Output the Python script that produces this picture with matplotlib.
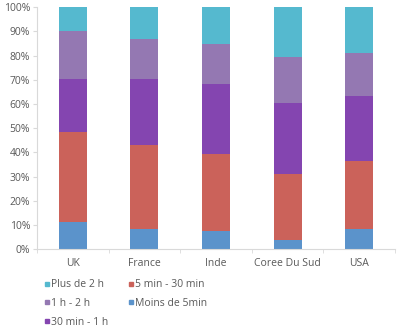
import numpy as np
import matplotlib.pyplot as plt
from matplotlib.lines import Line2D

plt.rcParams['font.family'] = ['Open Sans', 'DejaVu Sans']

countries = ['UK', 'France', 'Inde', 'Coree Du Sud', 'USA']

# share of each duration bucket, bottom to top
moins_5min = [11.2, 8.5, 7.6, 4.0, 8.5]
min5_30 = [37.4, 34.6, 31.8, 27.1, 27.8]
min30_1h = [21.8, 27.2, 28.7, 29.5, 26.9]
h1_2 = [19.8, 16.4, 16.9, 18.9, 18.0]
plus_2h = [9.8, 13.3, 15.0, 20.5, 18.8]

series = [moins_5min, min5_30, min30_1h, h1_2, plus_2h]
labels = ['Moins de 5min', '5 min - 30 min', '30 min - 1 h', '1 h - 2 h', 'Plus de 2 h']
colors = ['#5B93CB', '#CB625A', '#8445B0', '#9478B2', '#55B9CF']

fig = plt.figure(figsize=(4.0, 3.29), dpi=100)
ax = fig.add_axes([37 / 400, 1 - 249.3 / 329, 358 / 400, 242 / 329])

x = np.arange(len(countries))
bottom = np.zeros(len(countries))
for vals, col in zip(series, colors):
    ax.bar(x, vals, 0.39, bottom=bottom, color=col, zorder=2)
    bottom += np.array(vals)

ax.set_xlim(-0.5, len(countries) - 0.5)
ax.set_ylim(0, 100)
ax.set_yticks(np.arange(0, 101, 10))
ax.set_yticklabels(['%d%%' % v for v in range(0, 101, 10)])
ax.set_xticks(x)
ax.set_xticklabels(countries)
ax.set_xticks(np.arange(-0.5, len(countries)), minor=True)
ax.tick_params(axis='x', which='major', length=0, pad=6)
ax.tick_params(axis='x', which='minor', length=3, color='#D9D9D9')
ax.tick_params(axis='y', length=3, color='#D9D9D9', pad=2)
ax.tick_params(labelsize=7.5, labelcolor='#595959')

for s in ['top', 'right']:
    ax.spines[s].set_visible(False)
for s in ['left', 'bottom']:
    ax.spines[s].set_color('#D9D9D9')
    ax.spines[s].set_linewidth(0.8)

# legend: top bucket first, filled column-wise
handles = [Line2D([], [], marker='s', linestyle='', markersize=3,
                  color=colors[i]) for i in range(4, -1, -1)]
leg_labels = [labels[i] for i in range(4, -1, -1)]
fig.legend(handles, leg_labels, ncol=2, loc='upper left',
           bbox_to_anchor=(40 / 400, 1 - 274 / 329), frameon=False,
           fontsize=7.5, labelcolor='#595959', handlelength=0.4,
           handletextpad=0.15, columnspacing=2.0, labelspacing=0.75,
           borderpad=0)

fig.savefig('out.png', dpi=100)
